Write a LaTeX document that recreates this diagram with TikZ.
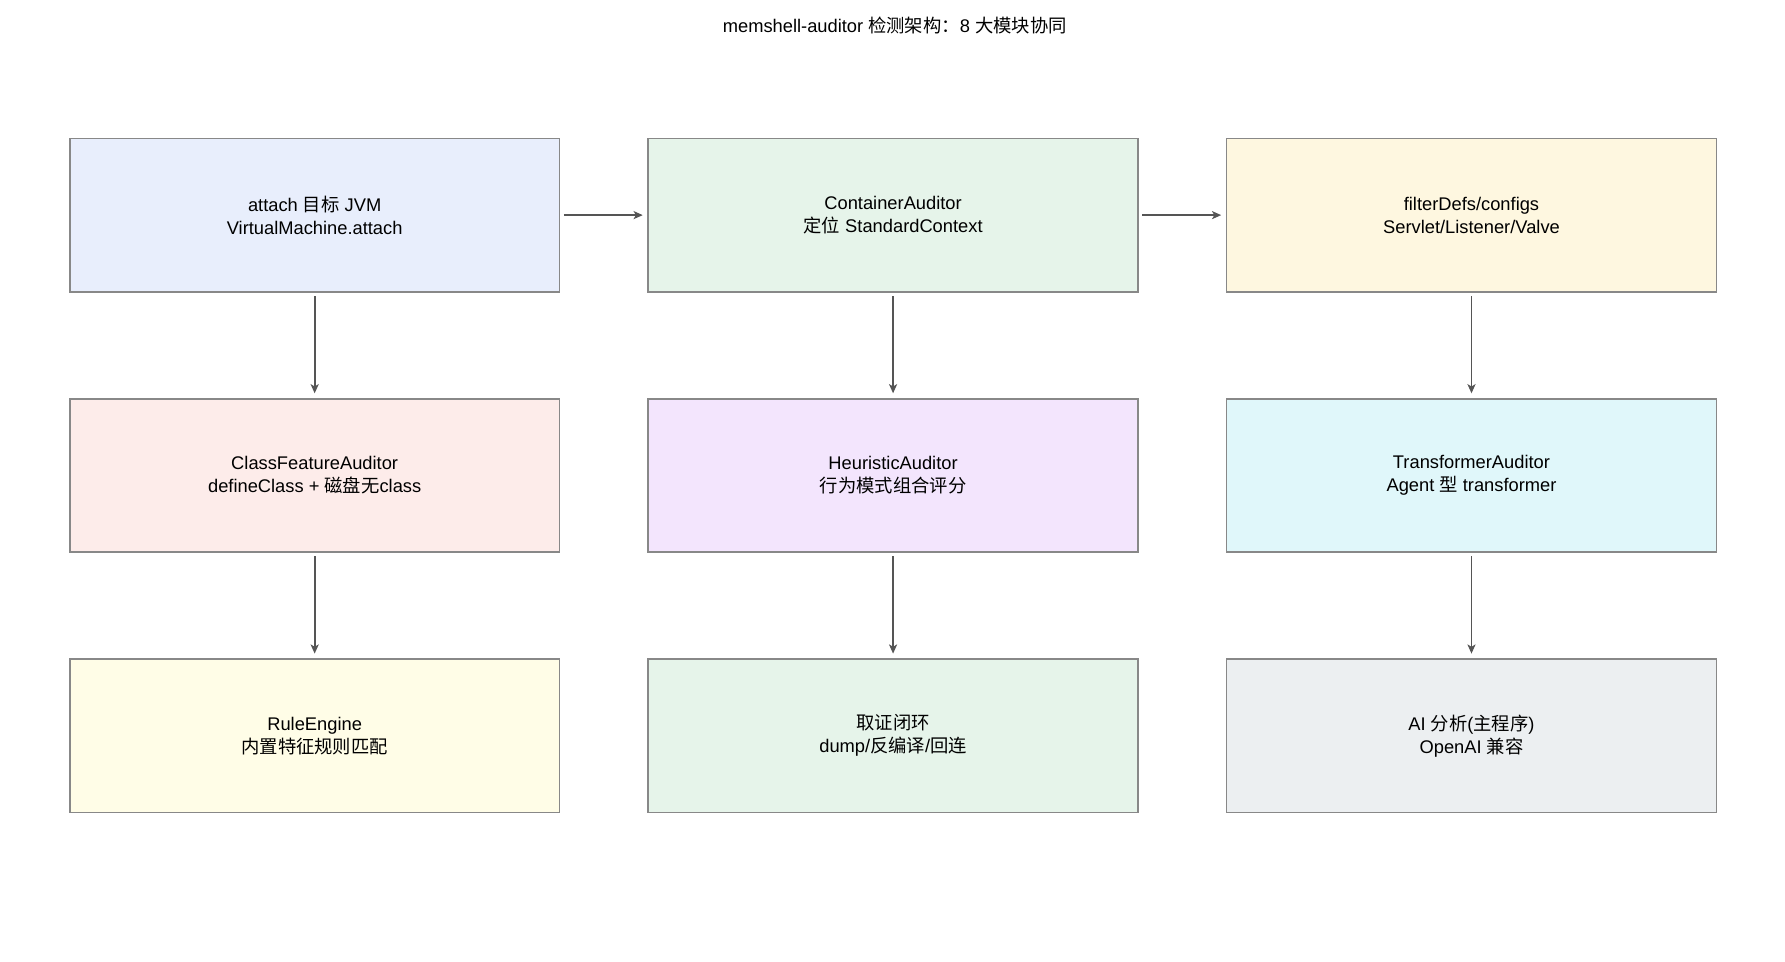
\documentclass[tikz,border=0pt]{standalone}
\usepackage{fontspec}
\setmainfont{Liberation Sans}
\newfontfamily\cjk{Noto Sans CJK SC}
\newcommand{\zh}[1]{{\cjk #1}}
\usetikzlibrary{positioning,arrows.meta}
\definecolor{boxline}{HTML}{888888}
\definecolor{arrowgray}{HTML}{555555}
\tikzset{every picture/.style={line width=1.5pt}}
\tikzset{
  module/.style={draw=boxline, minimum width=428pt, minimum height=134pt,
    align=center, font=\fontsize{16}{20}\selectfont, inner sep=0pt},
  flow/.style={draw=arrowgray, -{Stealth[length=8pt,width=7pt,inset=2pt]}, shorten >=4pt, shorten <=3pt}
}
\begin{document}
\begin{tikzpicture}[x=1pt,y=1pt,yscale=-1]
	\useasboundingbox (0,0) rectangle (1560,840);

	% title
	\node (title) at (782,22) {\fontsize{16}{20}\selectfont memshell-auditor \zh{检测架构：}8 \zh{大模块协同}};

	% row 1
	\node [module, fill={rgb,255:red,232;green,238;blue,252}] (attach) at (275,188) {attach \zh{目标} JVM\\VirtualMachine.attach};
	\node [module, fill={rgb,255:red,230;green,244;blue,234}, right=76pt of attach] (container) {ContainerAuditor\\\zh{定位} StandardContext};
	\node [module, fill={rgb,255:red,254;green,247;blue,224}, right=76pt of container] (filters) {filterDefs/configs\\Servlet/Listener/Valve};

	% row 2
	\node [module, fill={rgb,255:red,253;green,236;blue,234}, below=92pt of attach] (classfeat) {ClassFeatureAuditor\\defineClass + \zh{磁盘无}class};
	\node [module, fill={rgb,255:red,243;green,229;blue,253}, below=92pt of container] (heuristic) {HeuristicAuditor\\\zh{行为模式组合评分}};
	\node [module, fill={rgb,255:red,224;green,247;blue,250}, below=92pt of filters] (transformer) {TransformerAuditor\\Agent \zh{型} transformer};

	% row 3
	\node [module, fill={rgb,255:red,255;green,253;blue,231}, below=92pt of classfeat] (rules) {RuleEngine\\\zh{内置特征规则匹配}};
	\node [module, fill={rgb,255:red,230;green,244;blue,234}, below=92pt of heuristic] (forensic) {\zh{取证闭环}\\dump/\zh{反编译}/\zh{回连}};
	\node [module, fill={rgb,255:red,236;green,239;blue,241}, below=92pt of transformer] (ai) {AI \zh{分析}(\zh{主程序})\\OpenAI \zh{兼容}};

	% connectors
	\draw [flow] (attach) -- (container);
	\draw [flow] (container) -- (filters);
	\draw [flow] (attach) -- (classfeat);
	\draw [flow] (container) -- (heuristic);
	\draw [flow] (filters) -- (transformer);
	\draw [flow] (classfeat) -- (rules);
	\draw [flow] (heuristic) -- (forensic);
	\draw [flow] (transformer) -- (ai);

\end{tikzpicture}
\end{document}
